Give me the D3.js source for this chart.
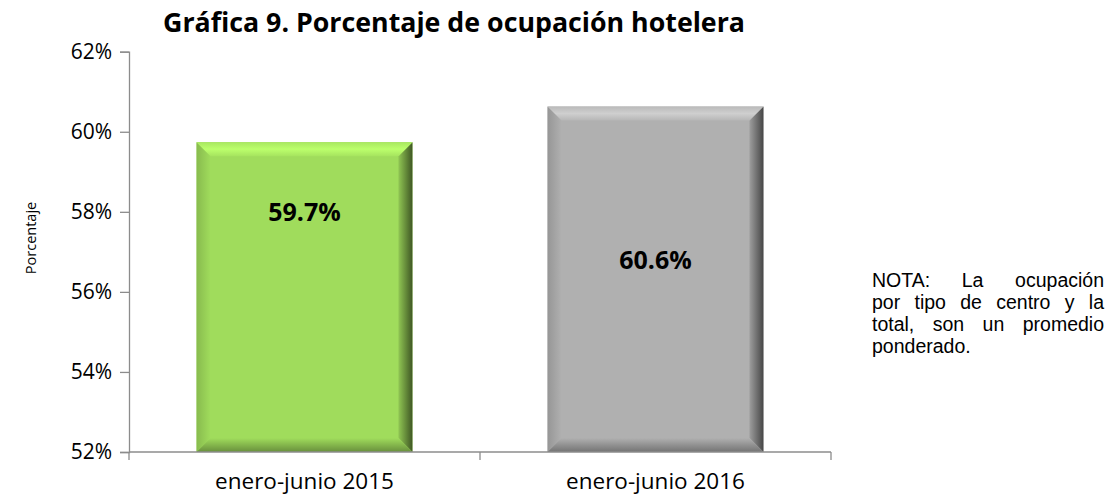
<!DOCTYPE html>
<html>
<head>
<meta charset="utf-8">
<script src="https://cdn.jsdelivr.net/npm/d3@7"></script>
<style>
  body { margin: 0; background: #fff; }
  svg { font-family: "Open Sans", sans-serif; }
</style>
</head>
<body>
<div id="chart"></div>
<script>
// datos de la grafica
var periodos = ["enero-junio 2015", "enero-junio 2016"];
var ocupacion = [59.74, 60.63];
var etiquetaEn = [58.0, 56.8];   // altura (en %) donde va cada etiqueta
var colores = ["#a0dc5c", "#b0b0b0"];
var ticksY = [52, 54, 56, 58, 60, 62];
var notaLineas = ["NOTA: La ocupación", "por tipo de centro y la", "total, son un promedio", "ponderado."];

var w = 1113, h = 498;
var svg = d3.select("#chart").append("svg").attr("width", w).attr("height", h);
var defs = svg.append("defs");

var y = d3.scaleLinear().domain([52, 62]).range([452, 51.7]);
var x = d3.scaleBand().domain(periodos).range([129, 831]).paddingInner(0.385).paddingOuter(0.1925);

// titulo
svg.append("text").attr("x", 454).attr("y", 32).attr("text-anchor", "middle")
  .style("font-family", "Open Sans").attr("font-size", 26).attr("font-weight", "bold").attr("fill", "#000")
  .attr("textLength", 582).attr("lengthAdjust", "spacingAndGlyphs")
  .text("Gráfica 9. Porcentaje de ocupación hotelera");

// eje y
var ejeY = svg.append("g").attr("transform", "translate(129,0)")
  .call(d3.axisLeft(y).tickValues(ticksY).tickSize(9).tickPadding(8).tickFormat(function(d) { return d + "%"; }));
ejeY.select(".domain").attr("stroke", "#8c8c8c").attr("stroke-width", 1.3);
ejeY.selectAll(".tick line").attr("stroke", "#8c8c8c").attr("stroke-width", 1.3);
ejeY.selectAll(".tick text").style("font-family", "Open Sans").style("font-size", "21px").attr("fill", "#000");

svg.append("text").attr("transform", "translate(36,238) rotate(-90)").attr("text-anchor", "middle")
  .style("font-family", "Open Sans").style("font-size", "14.5px").attr("fill", "#000").text("Porcentaje");

// barras con bisel
function shade(c, k) { return d3.color(c).darker(k).formatHex(); }
function light(c, k) { return d3.color(c).brighter(k).formatHex(); }

periodos.forEach(function(p, i) {
  var c = colores[i];
  var g1 = defs.append("linearGradient").attr("id", "der" + i).attr("x1", 0).attr("x2", 1).attr("y1", 0).attr("y2", 0);
  g1.append("stop").attr("offset", 0).attr("stop-color", shade(c, 0.3));
  g1.append("stop").attr("offset", 1).attr("stop-color", shade(c, 2.6));
  var g2 = defs.append("linearGradient").attr("id", "izq" + i).attr("x1", 0).attr("x2", 1).attr("y1", 0).attr("y2", 0);
  g2.append("stop").attr("offset", 0).attr("stop-color", shade(c, 0.45));
  g2.append("stop").attr("offset", 1).attr("stop-color", c);
  var g3 = defs.append("linearGradient").attr("id", "sup" + i).attr("x1", 0).attr("x2", 0).attr("y1", 0).attr("y2", 1);
  g3.append("stop").attr("offset", 0).attr("stop-color", light(c, 0.15));
  g3.append("stop").attr("offset", 0.5).attr("stop-color", light(c, 0.45));
  g3.append("stop").attr("offset", 1).attr("stop-color", light(c, 0.1));
  var g4 = defs.append("linearGradient").attr("id", "inf" + i).attr("x1", 0).attr("x2", 0).attr("y1", 0).attr("y2", 1);
  g4.append("stop").attr("offset", 0).attr("stop-color", c);
  g4.append("stop").attr("offset", 1).attr("stop-color", shade(c, 1.2));
});

var b = 14;
var barras = svg.selectAll("g.barra").data(periodos).enter().append("g").attr("class", "barra");
barras.each(function(p, i) {
  var g = d3.select(this);
  var x0 = x(p), x1 = x(p) + x.bandwidth(), y0 = y(ocupacion[i]), y1 = y(52);
  g.append("rect").attr("x", x0).attr("y", y0).attr("width", x1 - x0).attr("height", y1 - y0).attr("fill", colores[i]);
  g.append("polygon").attr("points", [[x0, y0], [x0 + b, y0 + b], [x0 + b, y1 - b], [x0, y1]].join(" ")).attr("fill", "url(#izq" + i + ")");
  g.append("polygon").attr("points", [[x1, y0], [x1, y1], [x1 - b, y1 - b], [x1 - b, y0 + b]].join(" ")).attr("fill", "url(#der" + i + ")");
  g.append("polygon").attr("points", [[x0, y1], [x1, y1], [x1 - b, y1 - b], [x0 + b, y1 - b]].join(" ")).attr("fill", "url(#inf" + i + ")");
  g.append("polygon").attr("points", [[x0, y0], [x1, y0], [x1 - b, y0 + b], [x0 + b, y0 + b]].join(" ")).attr("fill", "url(#sup" + i + ")");
  g.append("text").attr("x", x0 + x.bandwidth() / 2).attr("y", y(etiquetaEn[i]) + 9)
    .attr("text-anchor", "middle").style("font-size", "25px").attr("font-weight", "bold").attr("fill", "#000")
    .text(d3.format(".1f")(ocupacion[i]) + "%");
});

// eje x
var paso = x.step();
svg.append("line").attr("x1", 129).attr("x2", 831).attr("y1", y(52)).attr("y2", y(52)).attr("stroke", "#8c8c8c").attr("stroke-width", 1.3);
var limites = [0, 1, 2].map(function(k) { return 129 + k * paso; });
svg.selectAll("line.lim").data(limites).enter().append("line").attr("class", "lim")
  .attr("x1", function(d) { return d; }).attr("x2", function(d) { return d; })
  .attr("y1", y(52)).attr("y2", y(52) + 8).attr("stroke", "#8c8c8c").attr("stroke-width", 1.3);
svg.selectAll("text.cat").data(periodos).enter().append("text").attr("class", "cat")
  .attr("x", function(d) { return x(d) + x.bandwidth() / 2; }).attr("y", 489)
  .attr("text-anchor", "middle").style("font-size", "22.5px").attr("fill", "#000").text(function(d) { return d; });

// nota justificada
var nota = svg.append("g");
var nx0 = 872, nx1 = 1104;
notaLineas.forEach(function(linea, k) {
  var yy = 287 + k * 22;
  var palabras = linea.split(" ");
  var ultima = k === notaLineas.length - 1;
  var nodos = palabras.map(function(pal) {
    return nota.append("text").attr("y", yy).style("font-family", "'Liberation Sans', Arial, sans-serif")
      .style("font-size", "19.5px").attr("fill", "#000").text(pal);
  });
  var anchos = nodos.map(function(n) { return n.node().getComputedTextLength(); });
  var total = d3.sum(anchos);
  var hueco = (ultima || palabras.length < 2) ? 5.4 : (nx1 - nx0 - total) / (palabras.length - 1);
  var cx = nx0;
  nodos.forEach(function(n, j) { n.attr("x", cx); cx += anchos[j] + hueco; });
});
</script>
</body>
</html>
